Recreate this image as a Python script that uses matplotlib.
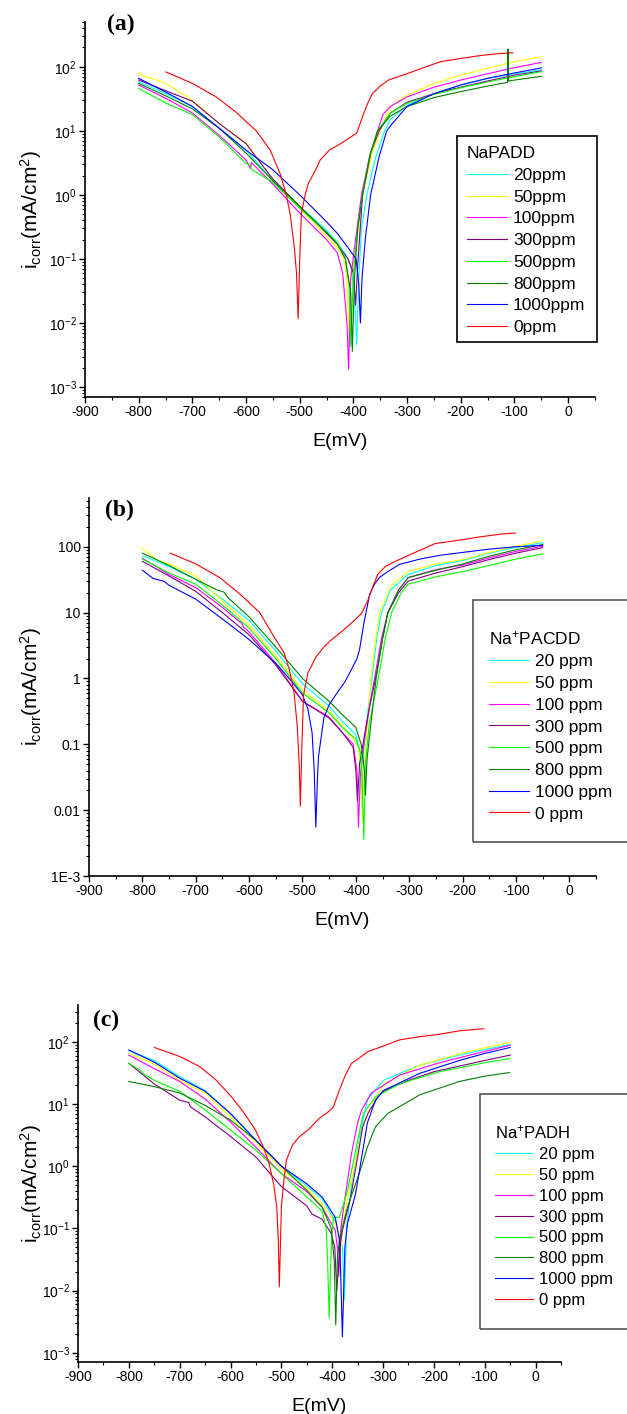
import matplotlib
matplotlib.use('Agg')
import matplotlib.pyplot as plt
from matplotlib.patches import Rectangle
from matplotlib.ticker import MultipleLocator, LogLocator, NullFormatter

plt.rcParams['font.family'] = 'Liberation Sans'
plt.rcParams['mathtext.fontset'] = 'custom'
plt.rcParams['mathtext.rm'] = 'Liberation Sans'
plt.rcParams['mathtext.it'] = 'Liberation Sans:italic'
plt.rcParams['axes.unicode_minus'] = False

# ---------------- data: (E in mV, i in mA/cm2) ----------------
# panel (a)  NaPADD
a_20 = [(-800, 58), (-749, 38), (-700, 24), (-650, 11), (-600, 5), (-551, 1.7), (-500, 0.66),
        (-450, 0.28), (-430, 0.18), (-415, 0.12), (-405, 0.08), (-398, 0.03), (-394, 0.0046),
        (-390, 0.05), (-385, 0.3), (-375, 1.0), (-360, 3.5), (-342, 10), (-331, 15), (-300, 25),
        (-250, 38), (-200, 52), (-150, 66), (-100, 78), (-50, 89)]
a_50 = [(-800, 83), (-790, 70), (-780, 68), (-749, 55), (-700, 30), (-650, 13), (-600, 6.5),
        (-551, 1.8), (-500, 0.62), (-450, 0.22), (-430, 0.15), (-418, 0.1), (-412, 0.05),
        (-409, 0.007), (-405, 0.05), (-395, 0.15), (-383, 1.0), (-365, 4.5), (-350, 10),
        (-331, 24), (-300, 36), (-250, 55), (-200, 74), (-150, 95), (-100, 120), (-50, 144)]
a_100 = [(-800, 52), (-749, 32), (-700, 19), (-650, 8.5), (-600, 3.5), (-595, 2.9), (-592, 2.6),
         (-590, 3.2), (-551, 1.5), (-500, 0.52), (-450, 0.2), (-430, 0.125), (-420, 0.06),
         (-417, 0.03), (-412, 0.01), (-409, 0.0019), (-405, 0.05), (-398, 0.15), (-385, 1.0),
         (-370, 4), (-355, 10), (-345, 18), (-331, 24), (-300, 34), (-250, 48), (-200, 62),
         (-150, 78), (-100, 97), (-50, 117)]
a_300 = [(-800, 62), (-749, 42), (-700, 29), (-650, 13), (-600, 6.3), (-551, 1.8), (-500, 0.66),
         (-450, 0.25), (-430, 0.17), (-410, 0.1), (-400, 0.06), (-396, 0.019), (-392, 0.08),
         (-383, 1.0), (-368, 4.5), (-352, 10), (-331, 19), (-300, 28), (-250, 38), (-200, 48),
         (-150, 60), (-100, 74), (-50, 86)]
a_500 = [(-800, 46), (-749, 27), (-700, 18), (-650, 8), (-600, 3.1), (-592, 3.0), (-590, 2.5),
         (-551, 1.6), (-500, 0.62), (-450, 0.26), (-430, 0.18), (-415, 0.1), (-408, 0.04),
         (-405, 0.0043), (-400, 0.06), (-392, 0.3), (-383, 1.0), (-368, 4.5), (-355, 10),
         (-331, 19), (-300, 27), (-250, 37), (-200, 47), (-150, 58), (-100, 70), (-50, 84)]
a_800 = [(-800, 55), (-749, 35), (-700, 22), (-650, 11), (-600, 4.5), (-551, 1.7), (-500, 0.66),
         (-450, 0.26), (-430, 0.17), (-415, 0.1), (-405, 0.03), (-402, 0.0036), (-398, 0.05),
         (-392, 0.3), (-383, 1.0), (-368, 4.5), (-355, 10), (-331, 17), (-300, 24), (-250, 33),
         (-200, 41), (-150, 50), (-113, 57), (-112, 190), (-111, 60), (-100, 62), (-50, 71)]
a_1000 = [(-800, 66), (-749, 40), (-700, 24), (-650, 11), (-600, 5), (-551, 2.5), (-500, 1.0),
          (-450, 0.38), (-430, 0.25), (-410, 0.15), (-395, 0.1), (-390, 0.04), (-387, 0.01),
          (-384, 0.05), (-378, 0.2), (-368, 1.0), (-352, 4), (-338, 10), (-331, 12), (-300, 24),
          (-250, 38), (-200, 52), (-150, 66), (-100, 80), (-50, 96)]
a_0 = [(-749, 83), (-700, 55), (-656, 34), (-620, 20), (-581, 10), (-555, 5), (-536, 2.1),
       (-525, 1.0), (-518, 0.51), (-510, 0.15), (-506, 0.06), (-503, 0.0117), (-500, 0.1),
       (-497, 0.51), (-490, 1.0), (-484, 1.5), (-470, 2.5), (-462, 3.5), (-445, 5), (-424, 6.3),
       (-405, 8), (-394, 9.2), (-383, 16.6), (-375, 25), (-365, 38), (-350, 50), (-335, 62),
       (-300, 78), (-275, 93), (-238, 120), (-200, 135), (-163, 150), (-130, 160), (-103, 166)]

# panel (b)  Na+PACDD
b_20 = [(-800, 73), (-750, 50), (-700, 32), (-650, 16), (-600, 7.6), (-550, 2.6), (-500, 0.83),
        (-450, 0.38), (-425, 0.22), (-400, 0.14), (-393, 0.08), (-389, 0.011), (-385, 0.08),
        (-378, 0.3), (-370, 1.0), (-360, 4.5), (-352, 10), (-335, 22), (-302, 38), (-250, 52),
        (-199, 62), (-150, 80), (-100, 98), (-50, 115)]
b_50 = [(-800, 95), (-780, 70), (-770, 62), (-750, 55), (-700, 36), (-650, 15), (-600, 6.5),
        (-550, 2.2), (-500, 0.66), (-450, 0.32), (-425, 0.19), (-405, 0.12), (-395, 0.09),
        (-390, 0.03), (-388, 0.0066), (-385, 0.05), (-378, 0.2), (-372, 1.0), (-362, 4.5),
        (-355, 10), (-335, 25), (-302, 42), (-250, 55), (-199, 64), (-150, 82), (-100, 102),
        (-50, 123)]
b_100 = [(-800, 67), (-750, 38), (-700, 24), (-650, 12), (-620, 7.5), (-614, 6.9), (-610, 6.0),
         (-600, 5.1), (-550, 1.7), (-500, 0.45), (-450, 0.26), (-425, 0.15), (-405, 0.1),
         (-398, 0.04), (-395, 0.0055), (-392, 0.03), (-385, 0.1), (-375, 0.35), (-365, 1.0),
         (-352, 4), (-340, 10), (-320, 22), (-302, 34), (-250, 45), (-199, 53), (-150, 68),
         (-100, 85), (-50, 102)]
b_300 = [(-800, 60), (-750, 36), (-700, 21), (-650, 10), (-600, 4.6), (-550, 1.6), (-500, 0.45),
         (-450, 0.25), (-425, 0.15), (-405, 0.09), (-400, 0.04), (-397, 0.014), (-393, 0.05),
         (-385, 0.12), (-375, 0.35), (-363, 1.0), (-350, 4), (-340, 10), (-320, 20), (-302, 30),
         (-250, 40), (-199, 50), (-150, 64), (-100, 80), (-50, 97)]
b_500 = [(-800, 65), (-750, 40), (-700, 27), (-650, 13), (-600, 5.8), (-550, 2.0), (-500, 0.6),
         (-450, 0.3), (-425, 0.18), (-400, 0.12), (-390, 0.07), (-385, 0.0036), (-382, 0.05),
         (-375, 0.2), (-358, 1.0), (-345, 4), (-333, 10), (-315, 20), (-302, 27), (-250, 35),
         (-199, 42), (-150, 52), (-100, 65), (-50, 78)]
b_800 = [(-800, 80), (-750, 52), (-700, 32), (-660, 22), (-647, 20.5), (-640, 17), (-600, 8.6),
         (-550, 3.0), (-500, 1.0), (-450, 0.45), (-425, 0.28), (-400, 0.18), (-390, 0.1),
         (-384, 0.04), (-382, 0.017), (-379, 0.06), (-372, 0.2), (-362, 1.0), (-350, 4),
         (-340, 10), (-320, 22), (-302, 34), (-250, 44), (-199, 55), (-150, 72), (-100, 90),
         (-50, 108)]
b_1000 = [(-800, 44), (-780, 33), (-760, 30), (-750, 26), (-700, 16), (-650, 8), (-600, 3.9),
          (-550, 1.7), (-520, 0.9), (-500, 0.56), (-490, 0.35), (-482, 0.15), (-478, 0.04),
          (-475, 0.0055), (-472, 0.03), (-470, 0.065), (-460, 0.25), (-450, 0.4), (-438, 0.56),
          (-420, 0.9), (-408, 1.38), (-398, 2.0), (-393, 2.75), (-385, 6.9), (-374, 19),
          (-365, 27), (-356, 34), (-340, 42), (-318, 54), (-280, 65), (-243, 74), (-200, 82),
          (-150, 92), (-100, 100), (-50, 105)]
b_0 = [(-748, 80), (-700, 55), (-655, 34), (-620, 20), (-580, 10), (-555, 4.5), (-535, 2.5),
       (-525, 1.4), (-516, 0.63), (-510, 0.2), (-506, 0.05), (-504, 0.0115), (-501, 0.1),
       (-498, 0.56), (-490, 1.2), (-475, 2.1), (-460, 3.0), (-445, 3.9), (-430, 4.9), (-415, 6.2),
       (-400, 8), (-389, 9.8), (-378, 15), (-368, 25), (-359, 38), (-345, 50), (-326, 60),
       (-300, 75), (-251, 112), (-200, 128), (-168, 141), (-130, 155), (-101, 162)]

# panel (c)  Na+PADH
c_20 = [(-800, 72), (-783, 62), (-776, 60), (-750, 50), (-700, 27.5), (-650, 16.5), (-600, 7),
        (-550, 2.6), (-500, 1.0), (-450, 0.48), (-420, 0.3), (-394, 0.13), (-380, 0.05),
        (-376, 0.007), (-372, 0.1), (-362, 0.5), (-346, 3), (-331, 11.5), (-315, 17), (-299, 24),
        (-228, 42), (-150, 61), (-100, 75), (-50, 90)]
c_50 = [(-800, 65), (-750, 44), (-700, 24), (-650, 15), (-600, 6.2), (-550, 2.4), (-500, 0.9),
        (-450, 0.44), (-420, 0.25), (-394, 0.12), (-387, 0.08), (-384, 0.035), (-380, 0.1),
        (-370, 0.3), (-354, 1.2), (-339, 4.5), (-323, 9), (-299, 21), (-228, 42), (-150, 64),
        (-100, 80), (-50, 98)]
c_100 = [(-800, 61), (-750, 37), (-700, 23), (-650, 12), (-600, 5.1), (-550, 2.0), (-500, 0.76),
         (-450, 0.39), (-420, 0.22), (-394, 0.093), (-390, 0.05), (-387, 0.017), (-383, 0.1),
         (-375, 0.3), (-362, 1.6), (-350, 5), (-342, 8), (-323, 15), (-268, 29), (-189, 46),
         (-100, 70), (-50, 88)]
c_300 = [(-800, 45), (-750, 21), (-700, 11.5), (-682, 10.5), (-679, 9.0), (-650, 6.2),
         (-600, 3.0), (-550, 1.4), (-500, 0.47), (-450, 0.23), (-440, 0.17), (-420, 0.14),
         (-402, 0.083), (-395, 0.05), (-391, 0.01), (-385, 0.05), (-380, 0.093), (-365, 0.28),
         (-350, 1.4), (-340, 4.3), (-330, 7), (-310, 13), (-300, 16), (-250, 24), (-200, 33),
         (-100, 50), (-50, 61)]
c_500 = [(-800, 45), (-780, 36), (-770, 30), (-750, 24), (-700, 16), (-650, 8), (-600, 3.8),
         (-550, 1.8), (-500, 0.76), (-450, 0.32), (-420, 0.19), (-412, 0.1), (-409, 0.03),
         (-406, 0.0036), (-402, 0.05), (-398, 0.15), (-386, 0.15), (-370, 0.4), (-350, 2.6),
         (-339, 7), (-315, 13), (-268, 21), (-189, 33), (-100, 46), (-50, 54)]
c_800 = [(-800, 23), (-750, 19), (-700, 15), (-650, 9.5), (-600, 5.5), (-550, 2.6), (-500, 1.0),
         (-450, 0.41), (-420, 0.22), (-402, 0.1), (-396, 0.03), (-393, 0.0028), (-390, 0.03),
         (-386, 0.065), (-370, 0.22), (-354, 0.52), (-342, 1.0), (-331, 2.0), (-315, 4.3),
         (-291, 7), (-228, 14), (-150, 23), (-100, 28), (-51, 32)]
c_1000 = [(-800, 74), (-750, 47), (-700, 26), (-650, 16), (-600, 7), (-550, 2.6), (-500, 1.0),
          (-450, 0.52), (-420, 0.32), (-394, 0.15), (-385, 0.06), (-380, 0.0018), (-375, 0.05),
          (-370, 0.12), (-354, 0.36), (-342, 1.4), (-331, 4.9), (-315, 11.5), (-299, 16.5),
          (-228, 31), (-150, 50), (-100, 65), (-50, 81)]
c_0 = [(-750, 81), (-700, 58), (-661, 40), (-630, 25), (-598, 13), (-575, 7.5), (-551, 3.8),
       (-535, 2), (-524, 1.1), (-515, 0.5), (-509, 0.22), (-506, 0.06), (-504, 0.0115),
       (-502, 0.05), (-500, 0.22), (-495, 0.6), (-490, 1.26), (-478, 2.2), (-465, 2.95),
       (-445, 4.0), (-425, 5.9), (-410, 7.2), (-398, 8.9), (-386, 16.6), (-375, 28), (-362, 45),
       (-345, 56), (-331, 69), (-300, 85), (-268, 107), (-230, 120), (-189, 132), (-150, 150),
       (-102, 162)]

conc = ['20', '50', '100', '300', '500', '800', '1000', '0']
colors = ['#00FFFF', '#FFFF00', '#FF00FF', '#800080', '#00FF00', '#008000', '#0000FF', '#FF0000']

W, H = 627, 1414
fig = plt.figure(figsize=(W / 100, H / 100), dpi=100)


def px_axes(left, right, top, bottom):
    return fig.add_axes([left / W, 1 - bottom / H, (right - left) / W, (bottom - top) / H])


def style(ax, ylim):
    ax.set_yscale('log')
    ax.set_xlim(-900, 50)
    ax.set_ylim(*ylim)
    ax.set_xticks(range(-900, 1, 100))
    ax.xaxis.set_minor_locator(MultipleLocator(50))
    ax.yaxis.set_major_locator(LogLocator(base=10, numticks=20))
    ax.yaxis.set_minor_locator(LogLocator(base=10, subs=range(2, 10), numticks=50))
    ax.yaxis.set_minor_formatter(NullFormatter())
    for s in ['top', 'right']:
        ax.spines[s].set_visible(False)
    for s in ['left', 'bottom']:
        ax.spines[s].set_linewidth(1.2)
    ax.tick_params(which='major', direction='out', length=4, width=1, labelsize=10, pad=2)
    ax.tick_params(which='minor', direction='out', length=2.5, width=0.8)
    ax.set_xlabel('E(mV)', fontsize=14, va='top')
    ax.set_ylabel(r'i$_\mathregular{corr}$(mA/cm$^\mathregular{2}$)', fontsize=15)


def draw(ax, curves, unit):
    for data, c, col in zip(curves, conc, colors):
        e = [p[0] for p in data]
        i = [p[1] for p in data]
        ax.plot(e, i, color=col, lw=0.8, label=c + unit)


panels = [
    dict(curves=[a_20, a_50, a_100, a_300, a_500, a_800, a_1000, a_0], unit='ppm',
         rect=(85, 595, 22, 397), ylim=(7.0e-4, 500), title='NaPADD',
         box=(0.729, 0.147, 0.275, 0.549), boxcol='black', anchor=(0.749, 0.669),
         lfs=12.5, lsp=0.38, tag='(a)', tagpos=(121, 24), ylab=-0.08),
    dict(curves=[b_20, b_50, b_100, b_300, b_500, b_800, b_1000, b_0], unit=' ppm',
         rect=(89, 596, 498, 876), ylim=(1e-3, 550), title=r'Na$^\mathregular{+}$PACDD',
         box=(0.757, 0.09, 0.5, 0.64), boxcol='#555555', anchor=(0.789, 0.652),
         lfs=12.5, lsp=0.38, tag='(b)', tagpos=(119, 510), ylab=-0.088),
    dict(curves=[c_20, c_50, c_100, c_300, c_500, c_800, c_1000, c_0], unit=' ppm',
         rect=(78, 561, 1005, 1362), ylim=(7.1e-4, 390), title=r'Na$^\mathregular{+}$PADH',
         box=(0.832, 0.093, 0.5, 0.657), boxcol='#555555', anchor=(0.863, 0.669),
         lfs=12, lsp=0.35, tag='(c)', tagpos=(106, 1020), ylab=-0.07),
]

for p in panels:
    ax = px_axes(*p['rect'])
    draw(ax, p['curves'], p['unit'])
    style(ax, p['ylim'])
    if p['tag'] == '(b)':
        ax.set_yticks([1e-3, 1e-2, 1e-1, 1, 10, 100])
        ax.set_yticklabels(['1E-3', '0.01', '0.1', '1', '10', '100'])
    h = p['rect'][3] - p['rect'][2]
    ax.xaxis.set_label_coords(0.5, -36 / h)
    ax.yaxis.set_label_coords(p['ylab'], 0.5)
    leg = ax.legend(loc='upper left', bbox_to_anchor=p['anchor'], frameon=False,
                    borderpad=0, borderaxespad=0, handlelength=2.3, handletextpad=0.35,
                    labelspacing=p['lsp'], fontsize=p['lfs'], title=p['title'],
                    title_fontsize=p['lfs'], alignment='left')
    bx = p['box']
    ax.add_patch(Rectangle((bx[0], bx[1]), bx[2], bx[3], transform=ax.transAxes, fill=False,
                           ec=p['boxcol'], lw=1.2, clip_on=False))
    fig.text(p['tagpos'][0] / W, 1 - p['tagpos'][1] / H, p['tag'], family='Liberation Serif',
             weight='bold', fontsize=17, ha='center', va='center')

fig.savefig('out.png', dpi=100)
